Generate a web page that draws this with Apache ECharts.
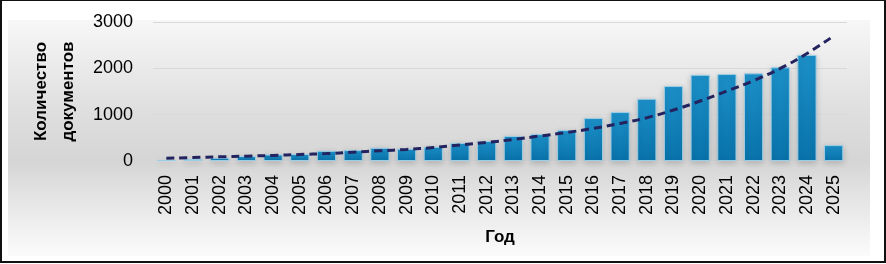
<!DOCTYPE html>
<html>
<head>
<meta charset="utf-8">
<script src="https://cdn.jsdelivr.net/npm/echarts@6/dist/echarts.min.js"></script>
<style>
html,body{margin:0;padding:0;background:#fff;}
#c{width:886px;height:264px;}
</style>
</head>
<body>
<div id="c"></div>
<script>
const years = ['2000','2001','2002','2003','2004','2005','2006','2007','2008','2009','2010','2011','2012','2013','2014','2015','2016','2017','2018','2019','2020','2021','2022','2023','2024','2025'];
const documents = [20,40,70,105,140,150,220,235,285,265,307,390,430,540,580,667,927,1056,1343,1618,1860,1877,1892,2022,2289,343];
const trend = [60,75,90,105,120,140,160,190,220,250,290,345,400,465,540,615,705,810,935,1100,1295,1510,1735,2000,2320,2700];
const yTicks = [0,1000,2000,3000];
const yAxisTitle = 'Количество\nдокументов';
const xAxisTitle = 'Год';

const chart = echarts.init(document.getElementById('c'), null, {renderer:'canvas'});
chart.setOption({
  animation:false,
  backgroundColor:'#ffffff',
  graphic:[
    {type:'rect', z:-2, silent:true, shape:{x:8,y:20,width:862,height:236},
     style:{fill:new echarts.graphic.LinearGradient(0,0,0,1,[
       {offset:0,color:'#f7f7f7'},
       {offset:0.17,color:'#ececec'},
       {offset:0.38,color:'#dfdfdf'},
       {offset:0.6,color:'#d5d5d5'},
       {offset:0.77,color:'#e6e6e6'},
       {offset:1,color:'#fbfbfb'}
     ])}},
    {type:'rect', z:100, silent:true, shape:{x:1,y:0,width:884,height:262},
     style:{fill:'none',stroke:'#111',lineWidth:2}}
  ],
  grid:{left:153,right:39,top:22,bottom:103},
  xAxis:{
    type:'category',
    data:years,
    axisTick:{show:false},
    axisLine:{show:false},
    axisLabel:{rotate:90,fontSize:18,margin:14,color:'#000',fontFamily:'Liberation Sans'},
    name:xAxisTitle,
    nameLocation:'middle',
    nameGap:68,
    nameTextStyle:{fontWeight:'bold',fontSize:17,color:'#000',fontFamily:'Liberation Sans'}
  },
  yAxis:{
    type:'value',
    min:yTicks[0],
    max:yTicks[yTicks.length-1],
    interval:1000,
    axisLine:{show:false},
    axisTick:{show:false},
    splitLine:{lineStyle:{color:'#d9d9d9',width:1}},
    axisLabel:{fontSize:18,margin:20,color:'#000',fontFamily:'Liberation Sans',formatter:function(v){return String(v);}},
    name:yAxisTitle,
    nameLocation:'middle',
    nameRotate:90,
    nameGap:56,
    nameTextStyle:{fontWeight:'bold',fontSize:17,lineHeight:27,color:'#000',fontFamily:'Liberation Sans'}
  },
  series:[
    {
      type:'bar',
      data:documents,
      barCategoryGap:'28%',
      itemStyle:{
        color:new echarts.graphic.LinearGradient(0,0,0,1,[
          {offset:0,color:'#1c90c8'},
          {offset:1,color:'#0972aa'}
        ]),
        borderColor:'#9ccde6',
        borderWidth:1,
        shadowColor:'rgba(0,0,0,0.18)',
        shadowBlur:6,
        shadowOffsetY:2
      },
      z:2
    },
    {
      type:'line',
      data:trend,
      smooth:true,
      showSymbol:false,
      symbol:'none',
      lineStyle:{color:'#22235f',width:3,type:[8,5],cap:'butt'},
      z:5
    }
  ]
});
</script>
</body>
</html>
